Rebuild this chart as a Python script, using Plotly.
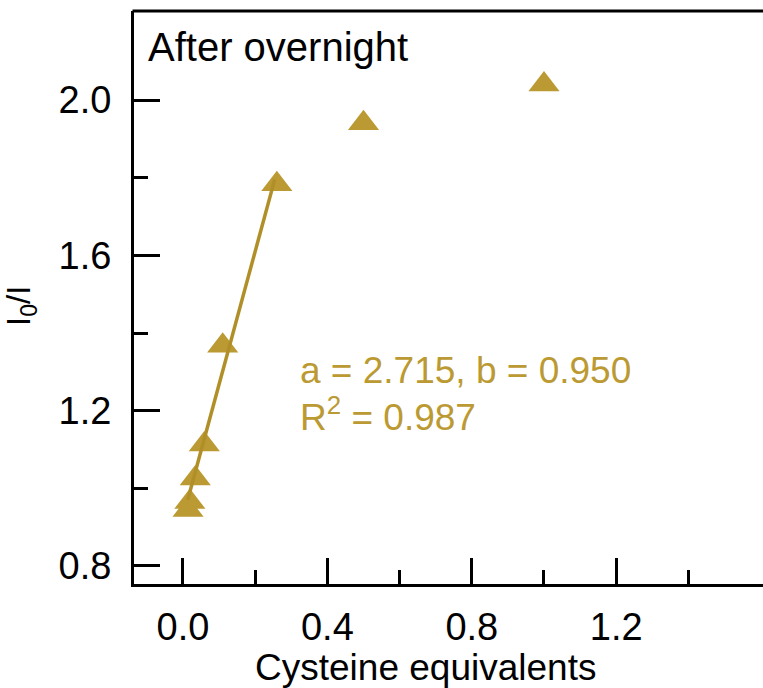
import plotly.graph_objects as go

# Data
equiv = [0.014, 0.019, 0.034, 0.059, 0.110, 0.260, 0.50, 1.00]
ratio = [0.944, 0.965, 1.025, 1.113, 1.367, 1.783, 1.94, 2.04]

fit_x = [0.013, 0.254]
fit_y = [0.970, 1.795]

x_major = [0.0, 0.4, 0.8, 1.2]
x_major_text = ["0.0", "0.4", "0.8", "1.2"]
x_minor = [0.2, 0.6, 1.0, 1.4]
y_major = [0.8, 1.2, 1.6, 2.0]
y_major_text = ["0.8", "1.2", "1.6", "2.0"]
y_minor = [1.0, 1.4, 1.8]

fit_label_1 = "a = 2.715, b = 0.950"
fit_label_2 = "R<sup>2</sup> = 0.987"
panel_label = "After overnight"
x_title = "Cysteine equivalents"
y_title = "I<sub>0</sub>/I"

GOLD = "#BB9A33"
LINE_GOLD = "#B18F28"
FONT = "Liberation Sans, Arial, sans-serif"

W, H = 763, 688
ML, MT, MB, MR = 134, 11, 104, 0
PW = W - ML - MR
PH = H - MT - MB


def px_x(px):
    return (px - ML) / PW


def px_y(py):
    return (H - MB - py) / PH


fig = go.Figure()
fig.add_trace(go.Scatter(
    x=equiv, y=ratio, mode="markers",
    marker=dict(symbol="triangle-up", size=27, color=GOLD, line=dict(width=0)),
    showlegend=False, hoverinfo="skip"))
fig.add_trace(go.Scatter(
    x=fit_x, y=fit_y, mode="lines",
    line=dict(color=LINE_GOLD, width=3.5),
    showlegend=False, hoverinfo="skip"))

x_left = -0.1357
x_right = x_left + PW / 361.0
y_bottom = 0.7536
y_top = y_bottom + PH / 388.3

fig.update_xaxes(
    range=[x_left, x_right], showgrid=False, zeroline=False,
    showline=True, linecolor="black", linewidth=3, mirror=False,
    ticks="inside", ticklen=26, tickwidth=3, tickcolor="black",
    tickvals=x_major, ticktext=x_major_text,
    tickfont=dict(family=FONT, size=38, color="black"),
    ticklabelstandoff=7,
    minor=dict(tickvals=x_minor, ticks="inside", ticklen=14, tickwidth=3,
               tickcolor="black", showgrid=False),
)
fig.update_yaxes(
    range=[y_bottom, y_top], showgrid=False, zeroline=False,
    showline=True, linecolor="black", linewidth=3, mirror=False,
    ticks="inside", ticklen=26, tickwidth=3, tickcolor="black",
    tickvals=y_major, ticktext=y_major_text,
    tickfont=dict(family=FONT, size=38, color="black"),
    ticklabelstandoff=12,
    minor=dict(tickvals=y_minor, ticks="inside", ticklen=14, tickwidth=3,
               tickcolor="black", showgrid=False),
)

annots = [
    dict(text=panel_label, x=px_x(146), y=px_y(47.5), xanchor="left", yanchor="middle",
         font=dict(family=FONT, size=40, color="black")),
    dict(text=fit_label_1, x=px_x(298), y=px_y(370.8), xanchor="left", yanchor="middle",
         font=dict(family=FONT, size=37, color=GOLD)),
    dict(text=fit_label_2, x=px_x(298), y=px_y(415), xanchor="left", yanchor="middle",
         font=dict(family=FONT, size=37, color=GOLD)),
    dict(text=x_title, x=px_x(253), y=px_y(667), xanchor="left", yanchor="middle",
         font=dict(family=FONT, size=37, color="black")),
    dict(text=y_title, x=px_x(21), y=px_y(306), xanchor="center", yanchor="middle",
         textangle=-90, font=dict(family=FONT, size=33, color="black")),
]
for a in annots:
    a.update(xref="paper", yref="paper", showarrow=False)

# top frame line (the right frame edge lies outside the picture)
frame_top = dict(type="line", xref="paper", yref="paper", x0=-0.0024, x1=1.0,
                 y0=1.0, y1=1.0, line=dict(color="black", width=3), layer="above")

fig.update_layout(
    width=W, height=H, margin=dict(l=ML, r=MR, t=MT, b=MB, pad=0),
    paper_bgcolor="white", plot_bgcolor="white",
    annotations=annots, shapes=[frame_top],
)
fig.write_html(
    "out.html",
    config={"displayModeBar": False},
    post_script="document.body.style.margin='0';document.body.style.overflow='hidden';",
)
